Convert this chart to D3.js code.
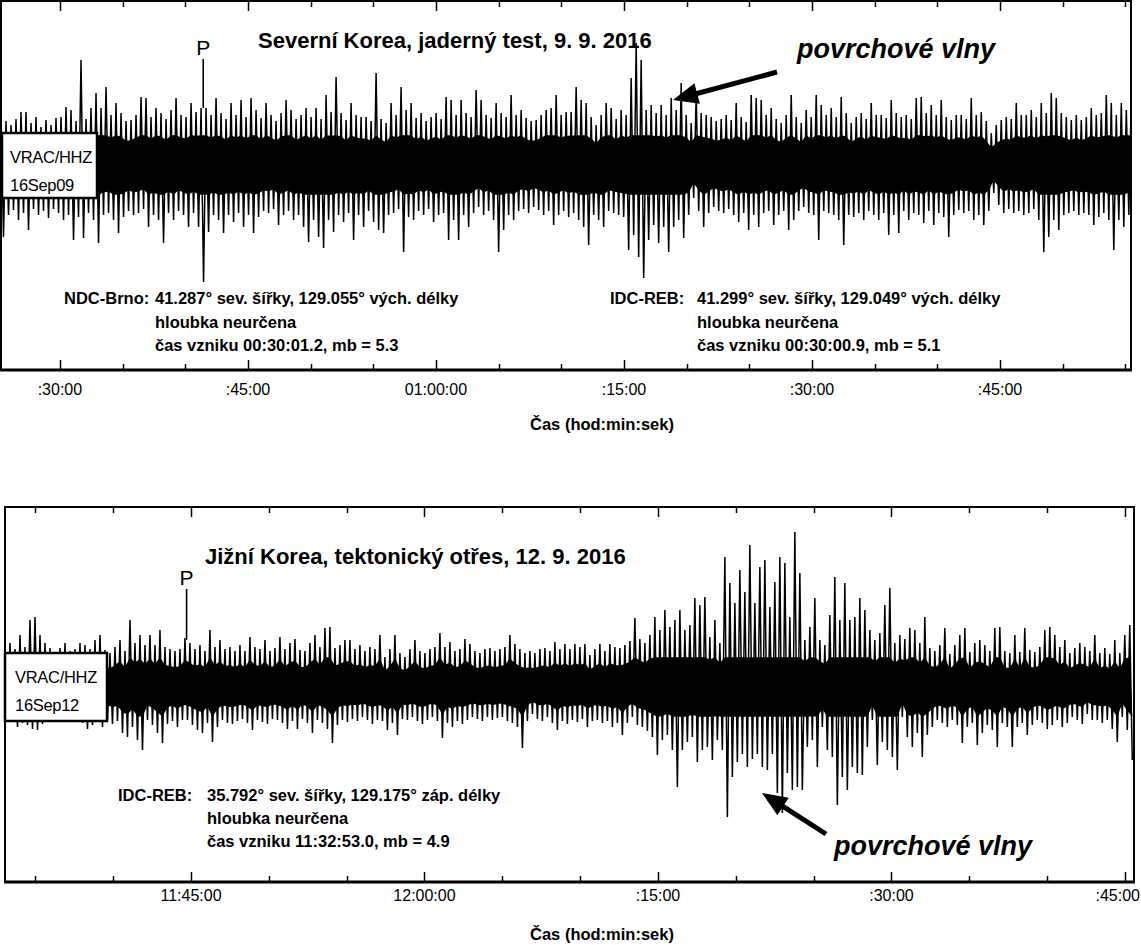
<!DOCTYPE html>
<html><head><meta charset="utf-8">
<script src="https://cdn.jsdelivr.net/npm/d3@7"></script>
<style>
body{margin:0;background:#fff}
svg{display:block}
text{font-family:"Liberation Sans",Arial,Helvetica,sans-serif;fill:#000}
</style>
</head><body>
<svg id="chart" width="1141" height="945"></svg>
<script>
// ---------------- DATA ----------------
// Panel 1: Severní Korea (station VRAC/HHZ, 2016-09-09)
const topStationLabel = ["VRAC/HHZ", "16Sep09"];
const topTitle = "Severní Korea, jaderný test, 9. 9. 2016";
const topStart = "2016-09-09 00:25:18";
const topEnd = "2016-09-09 01:55:27";
const topSampleStepSec = 23.94;
const topPTime = "2016-09-09 00:41:26";
// peak amplitudes per sample (upper / lower), arbitrary counts
const topHi = [50,44,40,46,53,53,42,48,38,45, 40,47,48,58,55,44,105,46,57,72, 57,78,50,62,52,44,45,50,68,67,
  48,57,52,46,55,67,50,48,62,53, 57,57,50,67,52,46,62,50,65,48, 67,55,47,62,50,44,52,65,55,46,
  50,57,48,57,46,70,53,88,52,45, 62,50,48,48,44,92,46,42,62,50, 78,55,62,47,52,44,48,52,46,68,
  65,50,65,52,48,75,65,50,47,62, 52,48,70,50,55,47,44,45,50,55, 57,70,50,53,53,78,65,62,48,40,
  50,62,57,46,55,50,87,122,105,55, 60,52,60,50,67,55,82,50,42,70, 52,50,48,44,46,50,45,62,48,43,
  70,67,65,50,57,46,42,50,70,48, 42,55,48,70,60,50,57,48,68,52, 42,48,52,46,62,50,50,47,65,52,
  48,50,46,67,68,52,60,50,65,48, 45,50,50,46,67,50,53,44,32,40, 45,48,46,62,50,50,55,48,62,52,
  72,67,52,48,45,50,45,48,57,50, 52,70,62,50,62,55,67];
const topLo = [-72,-50,-45,-55,-48,-65,-44,-50,-46,-53, -44,-48,-55,-50,-75,-52,-73,-48,-55,-78,
  -50,-48,-55,-68,-52,-46,-50,-48,-44,-62, -50,-55,-78,-48,-55,-46,-50,-62,-48,-62,
  -117,-67,-50,-55,-68,-50,-57,-48,-62,-50, -68,-52,-46,-48,-44,-60,-50,-46,-55,-50,
  -62,-77,-55,-72,-83,-55,-67,-50,-57,-48, -75,-50,-62,-46,-57,-65,-68,-50,-48,-44,
  -87,-52,-55,-46,-50,-44,-57,-50,-48,-75, -55,-75,-50,-62,-48,-42,-50,-46,-55,-87,
  -65,-50,-55,-46,-44,-48,-42,-45,-50,-46, -60,-50,-46,-52,-48,-55,-62,-80,-50,-55,
  -62,-46,-48,-50,-52,-85,-70,-92,-113,-75, -60,-78,-62,-87,-62,-55,-73,-50,-33,-46,
  -62,-48,-42,-46,-48,-44,-50,-57,-48,-65, -50,-62,-48,-46,-60,-50,-46,-65,-55,-46,
  -42,-48,-50,-75,-46,-48,-50,-55,-80,-50, -52,-48,-55,-46,-50,-55,-48,-70,-50,-68,
  -46,-55,-48,-50,-58,-46,-60,-48,-52,-72, -50,-45,-48,-46,-55,-50,-60,-46,-28,-40,
  -48,-44,-48,-46,-50,-48,-44,-55,-87,-72, -55,-65,-50,-48,-46,-50,-48,-50,-60,-52,
  -48,-55,-85,-55,-62,-50,-75];
const topMajorTicks = ["2016-09-09 00:30:00","2016-09-09 00:45:00","2016-09-09 01:00:00","2016-09-09 01:15:00","2016-09-09 01:30:00","2016-09-09 01:45:00"];
const topTickLabels = [":30:00", ":45:00", "01:00:00", ":15:00", ":30:00", ":45:00"];
const topNotes = [
  {agency: "NDC-Brno:", lines: ["41.287° sev. šířky, 129.055° vých. délky", "hloubka neurčena", "čas vzniku 00:30:01.2, mb = 5.3"]},
  {agency: "IDC-REB:", lines: ["41.299° sev. šířky, 129.049° vých. délky", "hloubka neurčena", "čas vzniku 00:30:00.9, mb = 5.1"]}
];

// Panel 2: Jižní Korea (station VRAC/HHZ, 2016-09-12)
const botStationLabel = ["VRAC/HHZ", "16Sep12"];
const botTitle = "Jižní Korea, tektonický otřes, 12. 9. 2016";
const botStart = "2016-09-12 11:33:03";
const botEnd = "2016-09-12 12:45:35";
const botSampleStepSec = 19.27;
const botPTime = "2016-09-12 11:44:43";
const botHi = [42,44,38,52,40,67,70,52,44,39, 35,39,44,36,38,44,42,38,47,52, 37,34,40,47,36,67,44,52,42,52,
  42,57,40,38,36,38,49,44,38,42, 36,57,40,47,38,40,36,42,36,50, 40,38,47,36,39,50,38,44,48,37,
  36,44,52,40,59,60,39,42,47,47, 38,42,36,40,38,52,30,38,52,34, 30,38,47,36,34,38,40,54,40,45,
  36,38,48,43,36,34,38,39,36,38, 40,52,43,38,34,36,34,38,39,36, 45,38,43,38,43,40,43,32,38,43,
  36,43,40,39,42,46,69,48,44,52, 70,57,77,60,67,77,57,62,89,82, 90,50,67,44,130,104,84,117,95,142,
  84,120,127,80,105,130,124,70,155,114, 47,60,89,47,42,72,110,67,104,67, 70,89,77,57,47,54,82,99,44,52,
  48,59,57,44,70,39,36,42,59,33, 42,52,59,35,44,47,42,36,59,60, 36,34,52,35,59,37,35,40,57,60,
  52,40,47,34,39,44,40,36,52,34, 39,33,47,34,52,62];
const botLo = [-30,-34,-40,-36,-38,-42,-43,-37,-34,-30, -32,-30,-28,-32,-30,-36,-42,-38,-34,-40,
  -33,-37,-34,-46,-50,-40,-53,-63,-33,-38, -46,-56,-37,-34,-40,-33,-33,-38,-43,-46,
  -36,-55,-40,-33,-36,-37,-34,-32,-36,-43, -33,-35,-37,-32,-33,-36,-42,-34,-42,-32,
  -36,-46,-33,-36,-42,-56,-38,-33,-35,-32, -34,-30,-33,-37,-33,-34,-43,-36,-48,-32,
  -33,-30,-34,-37,-33,-30,-34,-51,-36,-40, -34,-37,-33,-30,-32,-34,-30,-33,-31,-30,
  -34,-36,-40,-61,-34,-27,-32,-34,-30,-36, -43,-34,-37,-33,-35,-32,-40,-34,-33,-36,
  -34,-40,-36,-48,-36,-30,-38,-40,-44,-50, -68,-53,-48,-63,-100,-63,-55,-50,-75,-63,
  -60,-73,-53,-63,-130,-90,-75,-67,-80,-72, -67,-80,-83,-67,-106,-126,-86,-103,-100,-103,
  -60,-53,-80,-40,-63,-70,-118,-90,-103,-80, -86,-88,-60,-33,-78,-55,-63,-70,-83,-30,
  -50,-60,-46,-70,-48,-40,-33,-36,-40,-33, -38,-56,-40,-36,-58,-46,-38,-43,-60,-36,
  -40,-60,-40,-36,-48,-38,-33,-36,-42,-38, -33,-40,-36,-30,-33,-37,-27,-33,-33,-36,
  -33,-42,-55,-30,-43,-73];
const botMajorTicks = ["2016-09-12 11:45:00","2016-09-12 12:00:00","2016-09-12 12:15:00","2016-09-12 12:30:00","2016-09-12 12:45:00"];
const botTickLabels = ["11:45:00", "12:00:00", ":15:00", ":30:00", ":45:00"];
const botNotes = [
  {agency: "IDC-REB:", lines: ["35.792° sev. šířky, 129.175° záp. délky", "hloubka neurčena", "čas vzniku 11:32:53.0, mb = 4.9"]}
];

const axisTitle = "Čas (hod:min:sek)";
const arrowLabel = "povrchové vlny";

// ---------------- DRAWING ----------------
const parse = d3.timeParse("%Y-%m-%d %H:%M:%S");
const svg = d3.select("#chart");
const W = 1141;

function drawPanel(cfg) {
  const g = svg.append("g");
  const x = d3.scaleTime().domain([parse(cfg.start), parse(cfg.end)]).range([cfg.x0, cfg.x1]);
  const y = d3.scaleLinear().domain([-200, 200]).range([cfg.mid + 200, cfg.mid - 200]);
  const t0 = parse(cfg.start).getTime();
  const step = cfg.stepSec * 1000;

  const clipId = "clip" + cfg.id;
  svg.append("clipPath").attr("id", clipId).append("rect")
    .attr("x", cfg.x0).attr("y", cfg.y0).attr("width", cfg.x1 - cfg.x0).attr("height", cfg.y1 - cfg.y0);

  const samples = cfg.hi.map((h, i) => ({t: t0 + i * step, hi: h, lo: cfg.lo[i]}));

  // dense core of the oscillation (follows the peaks, clipped so lone spikes stay thin)
  const upper = samples.map(d => [x(new Date(d.t)), y(0.55 * Math.min(d.hi, 54))]);
  const lower = samples.map(d => [x(new Date(d.t + step / 2)), y(0.55 * Math.max(d.lo, -54))]).reverse();
  g.append("path").attr("clip-path", `url(#${clipId})`)
    .attr("d", d3.line()(upper.concat(lower)) + "Z").attr("fill", "#000");

  // oscillating trace: peak up, then trough half a sample later
  const pts = [];
  samples.forEach(d => {
    pts.push([x(new Date(d.t)), y(d.hi)]);
    pts.push([x(new Date(d.t + step / 2)), y(d.lo)]);
  });
  g.append("path").attr("clip-path", `url(#${clipId})`)
    .attr("d", d3.line()(pts)).attr("fill", "none")
    .attr("stroke", "#000").attr("stroke-width", 1.5).attr("stroke-linejoin", "miter");

  // frame
  g.append("rect").attr("x", cfg.x0).attr("y", cfg.y0)
    .attr("width", cfg.x1 - cfg.x0).attr("height", cfg.y1 - cfg.y0)
    .attr("fill", "none").attr("stroke", "#000").attr("stroke-width", 2);
  g.append("line").attr("x1", cfg.x0 - 1).attr("x2", cfg.x1 + 1)
    .attr("y1", cfg.y1).attr("y2", cfg.y1).attr("stroke", "#000").attr("stroke-width", 3);

  // ticks every 5 minutes, top (inward) and bottom (inward)
  const ticks = x.ticks(d3.timeMinute.every(5));
  const majors = cfg.majorTicks.map(s => parse(s).getTime());
  ticks.forEach(t => {
    const isMajor = majors.includes(t.getTime());
    const L = isMajor ? 10 : 6;
    const xx = Math.round(x(t)) + 0.5;
    g.append("line").attr("x1", xx).attr("x2", xx).attr("y1", cfg.y0).attr("y2", cfg.y0 + L)
      .attr("stroke", "#000").attr("stroke-width", 1.5);
    g.append("line").attr("x1", xx).attr("x2", xx).attr("y1", cfg.y1).attr("y2", cfg.y1 - L)
      .attr("stroke", "#000").attr("stroke-width", 1.5);
  });
  cfg.majorTicks.forEach((s, i) => {
    const tx = x(parse(s));
    const lbl = g.append("text").attr("y", cfg.labelY).style("font-size", "16px").text(cfg.tickLabels[i]);
    const w = lbl.node().getComputedTextLength();
    if (tx + w / 2 > W - 1) {
      lbl.attr("x", W - 1).attr("text-anchor", "end");
    } else {
      lbl.attr("x", tx).attr("text-anchor", "middle");
    }
  });
  g.append("text").attr("x", 602).attr("y", cfg.axisTitleY).attr("text-anchor", "middle")
    .style("font-size", "16.5px").style("font-weight", "bold").text(axisTitle);

  // station box
  g.append("rect").attr("x", cfg.box[0]).attr("y", cfg.box[1]).attr("width", cfg.box[2]).attr("height", cfg.box[3])
    .attr("fill", "#fff").attr("stroke", "#000").attr("stroke-width", 2.5);
  cfg.station.forEach((s, i) => {
    g.append("text").attr("x", cfg.box[0] + cfg.boxPad).attr("y", cfg.box[1] + 30 + i * 28)
      .style("font-size", "16.5px").style("letter-spacing", "-0.3px").text(s);
  });

  // title
  g.append("text").attr("x", cfg.titleX).attr("y", cfg.titleY)
    .style("font-size", "22px").style("font-weight", "bold").text(cfg.title);

  // P onset marker
  const px = x(parse(cfg.pTime));
  g.append("text").attr("x", px).attr("y", cfg.pY).attr("text-anchor", "middle")
    .style("font-size", "21px").text("P");
  g.append("line").attr("x1", px).attr("x2", px).attr("y1", cfg.pY + 4).attr("y2", cfg.pLineEnd)
    .attr("stroke", "#000").attr("stroke-width", 1.6);

  // notes
  cfg.notes.forEach((n, k) => {
    const nx = cfg.noteX[k];
    g.append("text").attr("x", nx[0]).attr("y", cfg.noteY[0])
      .style("font-size", "16.5px").style("font-weight", "bold").text(n.agency);
    n.lines.forEach((l, j) => {
      g.append("text").attr("x", nx[1]).attr("y", cfg.noteY[j])
        .style("font-size", "16.5px").style("font-weight", "bold").text(l);
    });
  });

  // arrow + label
  const a = cfg.arrow; // [fromX, fromY, tipX, tipY]
  const dx = a[2] - a[0], dy = a[3] - a[1];
  const len = Math.hypot(dx, dy), ux = dx / len, uy = dy / len;
  const hl = 25, hw = 10.5;
  const bx = a[2] - ux * hl, by = a[3] - uy * hl;
  g.append("line").attr("x1", a[0]).attr("y1", a[1]).attr("x2", bx + ux * 2).attr("y2", by + uy * 2)
    .attr("stroke", "#000").attr("stroke-width", 5);
  g.append("path").attr("d", `M${a[2]},${a[3]}L${bx - uy * hw},${by + ux * hw}L${bx + uy * hw},${by - ux * hw}Z`)
    .attr("fill", "#000");
  g.append("text").attr("x", cfg.arrowLabelPos[0]).attr("y", cfg.arrowLabelPos[1])
    .style("font-size", "27px").style("font-weight", "bold").style("font-style", "italic").text(arrowLabel);
}

drawPanel({
  id: 1, start: topStart, end: topEnd, stepSec: topSampleStepSec, hi: topHi, lo: topLo,
  x0: 1, x1: 1131, y0: 1, y1: 370, mid: 165,
  majorTicks: topMajorTicks, tickLabels: topTickLabels, labelY: 395, axisTitleY: 430,
  station: topStationLabel, box: [2, 133, 95, 65], boxPad: 8,
  title: topTitle, titleX: 258, titleY: 48,
  pTime: topPTime, pY: 55, pLineEnd: 108,
  notes: topNotes, noteX: [[64, 155], [610, 697]], noteY: [304, 328, 351],
  arrow: [777, 72, 673, 100], arrowLabelPos: [797, 58]
});
drawPanel({
  id: 2, start: botStart, end: botEnd, stepSec: botSampleStepSec, hi: botHi, lo: botLo,
  x0: 5, x1: 1134, y0: 507, y1: 882, mid: 687,
  majorTicks: botMajorTicks, tickLabels: botTickLabels, labelY: 901, axisTitleY: 940,
  station: botStationLabel, box: [5, 653, 102, 68], boxPad: 10,
  title: botTitle, titleX: 205, titleY: 564,
  pTime: botPTime, pY: 585, pLineEnd: 640,
  notes: botNotes, noteX: [[118, 207]], noteY: [801, 824, 847],
  arrow: [826, 834, 762, 793], arrowLabelPos: [834, 855]
});
</script>
</body></html>
